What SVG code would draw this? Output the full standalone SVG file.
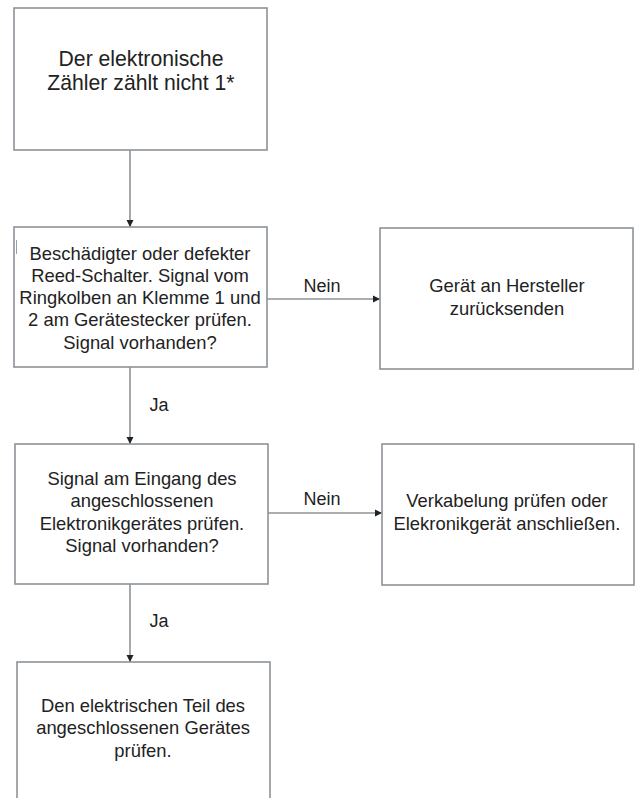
<svg xmlns="http://www.w3.org/2000/svg" width="636" height="798" viewBox="0 0 636 798">
<defs>
<style>
.box{fill:#fff;stroke:#8c9399;stroke-width:1.6}
.t{font-family:"Liberation Sans",Arial,sans-serif;font-size:18.4px;fill:#222;text-anchor:middle}
.big{font-size:21.2px}
.c{fill:none;stroke:#8c9399;stroke-width:1.6}
.lbl{font-family:"Liberation Sans",Arial,sans-serif;font-size:18px;fill:#222;text-anchor:middle}
</style>
<marker id="ah" markerWidth="8" markerHeight="8" refX="7" refY="4" orient="auto" markerUnits="userSpaceOnUse">
<path d="M0,0.5 L7,4 L0,7.5 Z" fill="#222"/>
</marker>
</defs>
<rect width="636" height="798" fill="#fff"/>
<g id="connectors">
<line class="c" x1="130" y1="150" x2="130" y2="227" marker-end="url(#ah)"/>
<line class="c" x1="267" y1="299" x2="380" y2="299" marker-end="url(#ah)"/>
<line class="c" x1="130" y1="367" x2="130" y2="444" marker-end="url(#ah)"/>
<line class="c" x1="268" y1="513" x2="382" y2="513" marker-end="url(#ah)"/>
<line class="c" x1="130" y1="584" x2="130" y2="662" marker-end="url(#ah)"/>
<text class="lbl" x="322" y="291.5">Nein</text>
<text class="lbl" x="322" y="504.5">Nein</text>
<text class="lbl" x="159" y="410.5">Ja</text>
<text class="lbl" x="159" y="626.5">Ja</text>
</g>
<g id="n1">
<rect class="box" x="14" y="8" width="253" height="142"/>
<text class="t big" x="141" y="65.5">Der elektronische</text>
<text class="t big" x="141" y="89.5">Zähler zählt nicht 1*</text>
</g>
<g id="n2">
<rect class="box" x="14" y="227" width="253" height="140"/>
<line x1="16.5" y1="240" x2="16.5" y2="254" stroke="#9aa0a5" stroke-width="1"/>
<text class="t" x="140" y="259.5">Beschädigter oder defekter</text>
<text class="t" x="140" y="281.8">Reed-Schalter. Signal vom</text>
<text class="t" x="140" y="304.1">Ringkolben an Klemme 1 und</text>
<text class="t" x="140" y="326.4">2 am Gerätestecker prüfen.</text>
<text class="t" x="140" y="348.7">Signal vorhanden?</text>
</g>
<g id="n3">
<rect class="box" x="380" y="228" width="253" height="141"/>
<text class="t" x="507" y="291.5">Gerät an Hersteller</text>
<text class="t" x="507" y="314.5">zurücksenden</text>
</g>
<g id="n4">
<rect class="box" x="15" y="444" width="253" height="140"/>
<text class="t" x="142" y="484.5">Signal am Eingang des</text>
<text class="t" x="142" y="507">angeschlossenen</text>
<text class="t" x="142" y="529.5">Elektronikgerätes prüfen.</text>
<text class="t" x="142" y="552">Signal vorhanden?</text>
</g>
<g id="n5">
<rect class="box" x="382" y="444" width="252" height="141"/>
<text class="t" x="507" y="506.5">Verkabelung prüfen oder</text>
<text class="t" x="507" y="529.5">Elekronikgerät anschließen.</text>
</g>
<g id="n6">
<rect class="box" x="17" y="662" width="253" height="150"/>
<text class="t" x="143" y="711.5">Den elektrischen Teil des</text>
<text class="t" x="143" y="734">angeschlossenen Gerätes</text>
<text class="t" x="143" y="756.5">prüfen.</text>
</g>
</svg>
